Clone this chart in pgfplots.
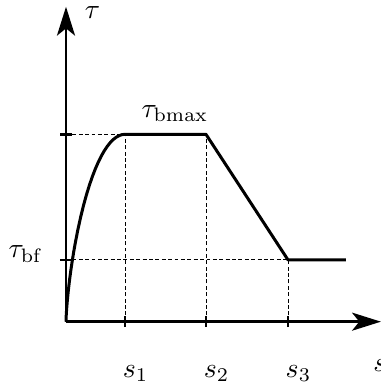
\documentclass[border=0pt]{standalone}
\usepackage{pgfplots}
\pgfplotsset{compat=1.18}
\usetikzlibrary{arrows.meta}
\begin{document}
\begin{tikzpicture}
\begin{axis}[
  x=21.24pt, y=67.46pt,
  xmin=0, xmax=5.339, ymin=0, ymax=1.681,
  axis lines=left,
  axis line style={line width=0.9pt, -{Stealth[length=10.4pt,width=6.5pt,inset=2.6pt]}},
  xtick={1,2.373,3.763},
  xticklabels={$s_1$,$s_2$,$s_3$},
  ytick={0.33,1},
  yticklabels={$\tau_{\mathrm{bf}}$,{}},
  tick align=center,
  major tick length=4pt,
  tick style={line width=0.9pt, black},
  xticklabel style={anchor=base west, inner sep=0pt, xshift=-1.0pt, yshift=-18pt},
  yticklabel style={anchor=base east, inner sep=0pt, xshift=-6.1pt, yshift=0.7pt},
  clip=false,
]
% dashed guide lines
\addplot[black, line width=0.3pt, dash pattern=on 1.4pt off 0.9pt] coordinates {(0,1) (1,1)};
\addplot[black, line width=0.3pt, dash pattern=on 1.4pt off 0.9pt] coordinates {(1,0) (1,1)};
\addplot[black, line width=0.3pt, dash pattern=on 1.4pt off 0.9pt] coordinates {(2.373,0) (2.373,1)};
\addplot[black, line width=0.3pt, dash pattern=on 1.4pt off 0.9pt] coordinates {(0,0.33) (3.763,0.33)};
\addplot[black, line width=0.3pt, dash pattern=on 1.4pt off 0.9pt] coordinates {(3.763,0) (3.763,0.33)};
% bond-slip curve: ascending branch, plateau, softening, residual
\addplot[black, line width=1.08pt, line join=round] coordinates {
 (0,0) (0.002,0.0209) (0.005,0.0397) (0.01,0.0644) (0.02,0.1043) (0.04,0.1683)
 (0.06,0.2219) (0.08,0.2695) (0.1,0.3126) (0.13,0.3716) (0.16,0.4249)
 (0.2,0.4891) (0.25,0.5606) (0.3,0.6242) (0.35,0.6809) (0.4,0.7317)
 (0.45,0.7772) (0.5,0.8176) (0.55,0.8535) (0.6,0.8851) (0.65,0.9126)
 (0.7,0.9361) (0.75,0.9558) (0.8,0.9718) (0.85,0.9842) (0.9,0.9930)
 (0.95,0.9983) (1,1)
 (2.373,1) (3.763,0.33) (4.746,0.33)};
\node[anchor=base west, inner sep=0pt] at (axis cs:0.31,1.62) {$\tau$};
\node[anchor=base, inner sep=0pt] at (axis cs:1.847,1.09) {$\tau_{\mathrm{bmax}}$};
\node[anchor=base west, inner sep=0pt] at (axis cs:5.20,-0.267) {$s$};
\coordinate (bbA) at (axis cs:-1.119,-0.322);
\coordinate (bbB) at (axis cs:5.339,1.717);
\end{axis}
\pgfresetboundingbox
\path[use as bounding box] (bbA) rectangle (bbB);
\end{tikzpicture}
\end{document}
